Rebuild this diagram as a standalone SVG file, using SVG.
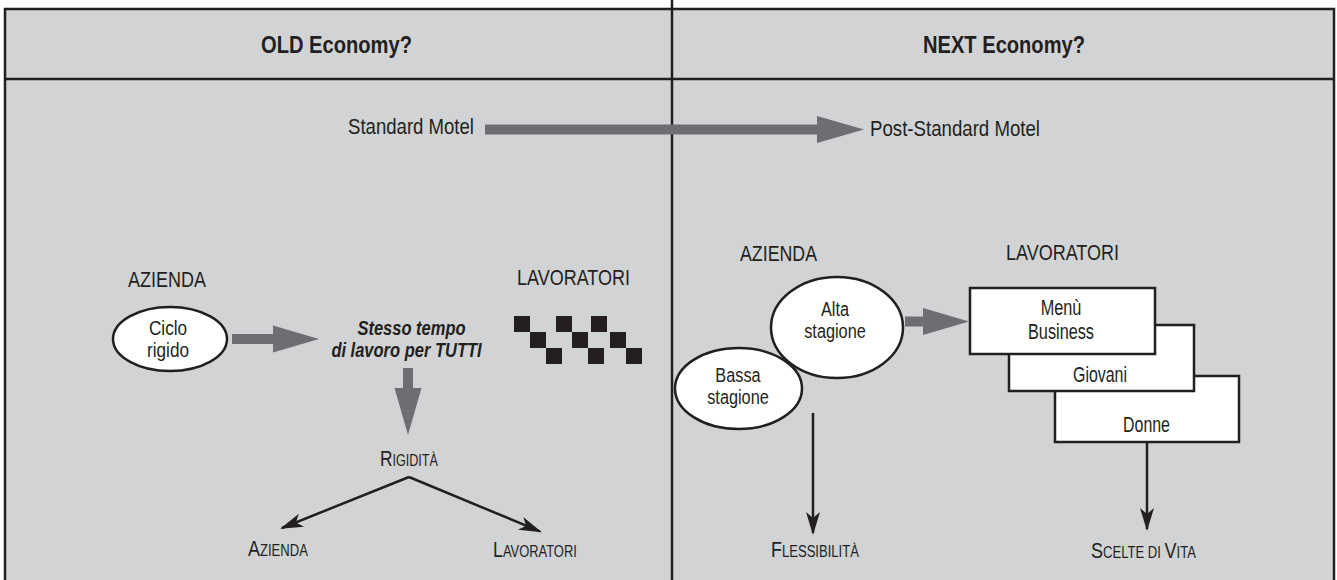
<svg xmlns="http://www.w3.org/2000/svg" width="1337" height="580" viewBox="0 0 1337 580">
<defs>
<style>
.t{font-family:"Liberation Sans",Arial,Helvetica,sans-serif;font-size:22px;fill:#231f20}
.h{font-weight:bold;font-size:24px}
.bi{font-weight:bold;font-style:italic}
.m{text-anchor:middle}
.two{font-size:20px}
.sc{font-size:16px}
.frame{fill:#d1d3d4;stroke:#231f20;stroke-width:2.5}
.ln{stroke:#231f20;stroke-width:2.5;fill:none}
.shape{fill:#ffffff;stroke:#231f20;stroke-width:2.5}
.ga{fill:#6d6e71}
.blk{fill:#231f20}
.conn{stroke:#231f20;stroke-width:2.5;fill:none;marker-end:url(#ah)}
</style>
<marker id="ah" viewBox="-24 -8 28 16" refX="0" refY="0" markerWidth="28" markerHeight="16" markerUnits="userSpaceOnUse" orient="auto">
<path d="M2,0 L-21,-7 L-15,0 L-21,7 Z" fill="#231f20"/>
</marker>
</defs>
<rect width="1337" height="580" fill="#ffffff"/>
<g id="frame">
<rect class="frame" x="5" y="9" width="1329" height="590"/>
<line class="ln" x1="5" y1="79" x2="1334" y2="79"/>
<line class="ln" x1="672" y1="0" x2="672" y2="580" stroke-width="2"/>
</g>
<g id="header-old"><text class="t h" x="261" y="53" textLength="151" lengthAdjust="spacingAndGlyphs">OLD Economy?</text></g>
<g id="header-next"><text class="t h" x="923" y="53" textLength="162" lengthAdjust="spacingAndGlyphs">NEXT Economy?</text></g>
<g id="standard-motel"><text class="t" x="348" y="134" textLength="126" lengthAdjust="spacingAndGlyphs">Standard Motel</text></g>
<g id="post-standard-motel"><text class="t" x="870" y="136" textLength="170" lengthAdjust="spacingAndGlyphs">Post-Standard Motel</text></g>
<g id="azienda-old"><text class="t" x="128" y="287" textLength="78" lengthAdjust="spacingAndGlyphs">AZIENDA</text></g>
<g id="lavoratori-old">
<text class="t" x="517" y="285" textLength="113" lengthAdjust="spacingAndGlyphs">LAVORATORI</text>
<g class="blk">
<rect x="514" y="316" width="16" height="16"/><rect x="530" y="332" width="16" height="16"/><rect x="546" y="348" width="16" height="16"/>
<rect x="556" y="316" width="16" height="16"/><rect x="572" y="332" width="16" height="16"/><rect x="588" y="348" width="16" height="16"/>
<rect x="591" y="316" width="16" height="16"/><rect x="610" y="332" width="16" height="16"/><rect x="626" y="348" width="16" height="16"/>
</g>
</g>
<g id="ciclo-rigido">
<ellipse class="shape" cx="170" cy="339" rx="57" ry="32"/>
<text class="t two m" transform="translate(168,0) scale(0.86,1)"><tspan x="0" y="335">Ciclo</tspan><tspan x="0" y="357">rigido</tspan></text>
</g>
<g id="stesso-tempo">
<text class="t two bi m" transform="translate(409,0) scale(0.825,1)"><tspan x="3" y="335">Stesso tempo</tspan><tspan x="-3" y="357">di lavoro per TUTTI</tspan></text>
</g>
<g id="rigidita"><text class="t" transform="translate(380,466) scale(0.787,1)">R<tspan class="sc">IGIDITÀ</tspan></text></g>
<g id="azienda-out"><text class="t" transform="translate(248,556) scale(0.817,1)">A<tspan class="sc">ZIENDA</tspan></text></g>
<g id="lavoratori-out"><text class="t" transform="translate(493,557) scale(0.808,1)">L<tspan class="sc">AVORATORI</tspan></text></g>
<g id="azienda-next"><text class="t" x="740" y="261" textLength="77" lengthAdjust="spacingAndGlyphs">AZIENDA</text></g>
<g id="lavoratori-next"><text class="t" x="1006" y="260" textLength="113" lengthAdjust="spacingAndGlyphs">LAVORATORI</text></g>
<g id="bassa-stagione">
<ellipse class="shape" cx="738.5" cy="388.5" rx="63.5" ry="40.5"/>
<text class="t two m" transform="translate(738,0) scale(0.815,1)"><tspan x="0" y="382">Bassa</tspan><tspan x="0" y="404">stagione</tspan></text>
</g>
<g id="alta-stagione">
<ellipse class="shape" cx="837" cy="327.5" rx="66" ry="50.5"/>
<text class="t two m" transform="translate(835,0) scale(0.815,1)"><tspan x="0" y="316">Alta</tspan><tspan x="0" y="338">stagione</tspan></text>
</g>
<g id="donne">
<rect class="shape" x="1055" y="376" width="184" height="66"/>
<text class="t" x="1123" y="432" textLength="47" lengthAdjust="spacingAndGlyphs">Donne</text>
</g>
<g id="giovani">
<rect class="shape" x="1009" y="325" width="185" height="66"/>
<text class="t" x="1073" y="382" textLength="54" lengthAdjust="spacingAndGlyphs">Giovani</text>
</g>
<g id="menu-business">
<rect class="shape" x="970" y="288" width="185" height="66"/>
<text class="t m" transform="translate(1061,0) scale(0.74,1)"><tspan x="0" y="315">Menù</tspan><tspan x="0" y="339">Business</tspan></text>
</g>
<g id="flessibilita"><text class="t" transform="translate(771,557) scale(0.817,1)">F<tspan class="sc">LESSIBILITÀ</tspan></text></g>
<g id="scelte-di-vita"><text class="t" transform="translate(1091,558) scale(0.818,1)">S<tspan class="sc">CELTE DI </tspan>V<tspan class="sc">ITA</tspan></text></g>
<g id="connectors">
<polygon class="ga" points="485,124.5 817,124.5 817,116 864,129.5 817,143 817,134.5 485,134.5"/>
<polygon class="ga" points="232,334 273,334 273,325.5 319,339 273,352.5 273,344 232,344"/>
<polygon class="ga" points="403,368 413,368 413,388 421.5,388 408,435 394.5,388 403,388"/>
<polygon class="ga" points="905,316.5 923,316.5 923,308 969,321.5 923,335 923,326.5 905,326.5"/>
<line class="conn" x1="409" y1="477" x2="282" y2="528"/>
<line class="conn" x1="409" y1="477" x2="540" y2="531.4"/>
<line class="conn" x1="813" y1="413" x2="813" y2="533"/>
<line class="conn" x1="1147" y1="442" x2="1147" y2="529"/>
</g>
</svg>
